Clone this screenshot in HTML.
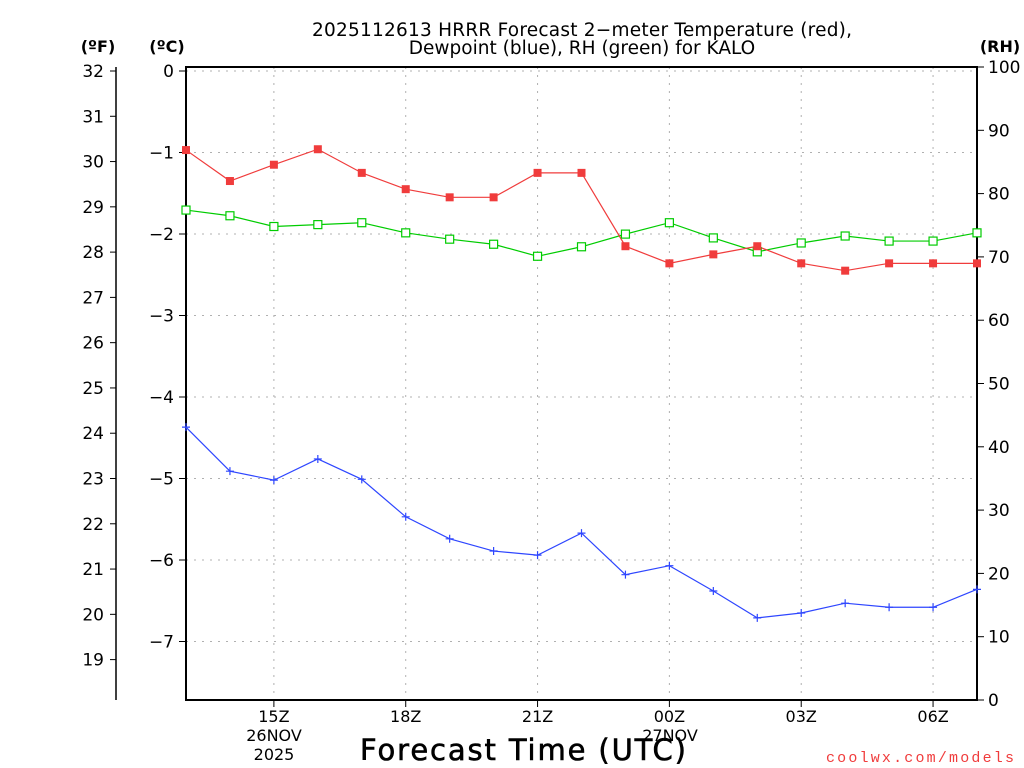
<!DOCTYPE html>
<html><head><meta charset="utf-8"><style>
html,body{margin:0;padding:0;background:#fff;}
svg{display:block;font-family:"DejaVu Sans","Liberation Sans",sans-serif;}
</style></head><body>
<svg id="chart" width="1024" height="768" viewBox="0 0 1024 768" xmlns="http://www.w3.org/2000/svg">
<text x="582" y="36" font-size="18.5" text-anchor="middle" textLength="540">2025112613 HRRR Forecast 2−meter Temperature (red),</text>
<text x="582" y="54" font-size="18.5" text-anchor="middle">Dewpoint (blue), RH (green) for KALO</text>
<text x="98" y="52" font-size="16" font-weight="bold" text-anchor="middle">(ºF)</text>
<text x="167" y="52" font-size="16" font-weight="bold" text-anchor="middle">(ºC)</text>
<text x="1000" y="52" font-size="16" font-weight="bold" text-anchor="middle">(RH)</text>
<text x="523" y="760" font-size="29" text-anchor="middle" stroke="#000" stroke-width="0.6" textLength="326">Forecast Time (UTC)</text>
<text x="1014" y="762" font-size="15" fill="#f03c3c" text-anchor="end" font-family="Liberation Mono, monospace" textLength="188">coolwx.com/models</text>
<g id="grid"></g><g id="axes"></g><g id="series"></g>
</svg>
<script>
const hours = ["13","14","15","16","17","18","19","20","21","22","23","00","01","02","03","04","05","06","07"];
const tempC = [-0.97,-1.35,-1.15,-0.96,-1.25,-1.45,-1.55,-1.55,-1.25,-1.25,-2.15,-2.36,-2.25,-2.15,-2.36,-2.45,-2.36,-2.36,-2.36];
const dewC = [-4.37,-4.91,-5.02,-4.76,-5.01,-5.47,-5.74,-5.89,-5.94,-5.67,-6.18,-6.07,-6.38,-6.71,-6.65,-6.53,-6.58,-6.58,-6.36];
const rh = [77.4,76.5,74.8,75.1,75.4,73.8,72.8,72.0,70.1,71.6,73.6,75.4,73.0,70.8,72.2,73.3,72.5,72.5,73.8];
const cTicks = [0,-1,-2,-3,-4,-5,-6,-7];
const fTicks = [32,31,30,29,28,27,26,25,24,23,22,21,20,19];
const rhTicks = [0,10,20,30,40,50,60,70,80,90,100];
const xTickIdx = [2,5,8,11,14,17];
const xTickLabels = ["15Z","18Z","21Z","00Z","03Z","06Z"];

const L=186,R=977,T=67,B=700;
const NS="http://www.w3.org/2000/svg";
const xs = i => L + (R-L)*i/(hours.length-1);
const yC = c => 71 - c*81.5;
const yF = f => yC((f-32)/1.8);
const yRH = v => B - (B-T)*v/100;
function mk(parent,tag,attrs,text){const e=document.createElementNS(NS,tag);for(const k in attrs)e.setAttribute(k,attrs[k]);if(text!==undefined)e.textContent=text;document.getElementById(parent).appendChild(e);return e;}

cTicks.forEach(c=>{
  const g=mk('grid','line',{x1:L,x2:R,y1:yC(c),y2:yC(c),stroke:'#b0b0b0','stroke-dasharray':'2,6'});
  
  
  const t=mk('axes','line',{x1:179,x2:L,y1:yC(c),y2:yC(c),stroke:'#000'});
  
  
  const lb=mk('axes','text',{x:174,y:yC(c)+6,'font-size':17,'text-anchor':'end'},c===0?'0':'−'+Math.abs(c));
  
  
});
xTickIdx.forEach((i,k)=>{
  const g=mk('grid','line',{x1:xs(i),x2:xs(i),y1:T,y2:B,stroke:'#b0b0b0','stroke-dasharray':'2,6'});
  
  
  const t=mk('axes','line',{x1:xs(i),x2:xs(i),y1:B,y2:B+7,stroke:'#000'});
  
  
  const lb=mk('axes','text',{x:xs(i),y:722,'font-size':16,'text-anchor':'middle'},xTickLabels[k]);
  
  
});
[["26NOV",274,741],["2025",274,760],["27NOV",670,741]].forEach(d=>{
  const lb=mk('axes','text',{x:d[1],y:d[2],'font-size':16,'text-anchor':'middle'},d[0]);
  
  
});
const fl=mk('axes','line',{x1:116,x2:116,y1:T,y2:B,stroke:'#000','stroke-width':1.5});


fTicks.forEach(f=>{
  const t=mk('axes','line',{x1:110,x2:116,y1:yF(f),y2:yF(f),stroke:'#000'});
  
  
  const lb=mk('axes','text',{x:104,y:yF(f)+6,'font-size':17,'text-anchor':'end'},String(f));
  
  
});
rhTicks.forEach(v=>{
  const t=mk('axes','line',{x1:R,x2:R+7,y1:yRH(v),y2:yRH(v),stroke:'#000'});
  
  
  const lb=mk('axes','text',{x:988,y:yRH(v)+6,'font-size':17,'text-anchor':'start'},String(v));
  
  
});
const fr=mk('axes','rect',{x:L,y:T,width:R-L,height:B-T,fill:'none',stroke:'#000','stroke-width':2});



function line(vals,yf,color,name){
  const p=mk('series','polyline',{points:vals.map((v,i)=>xs(i)+','+yf(v)).join(' '),fill:'none',stroke:color,'stroke-width':1.2});
  
  
}
line(rh,yRH,'#00cc00','rh');
line(tempC,yC,'#f03c3c','temperature');
line(dewC,yC,'#2e46ff','dewpoint');
rh.forEach((v,i)=>{
  const m=mk('series','rect',{x:xs(i)-4,y:yRH(v)-4,width:8,height:8,fill:'#fff',stroke:'#00cc00','stroke-width':1.2});
  
  
});
tempC.forEach((v,i)=>{
  const m=mk('series','rect',{x:xs(i)-4,y:yC(v)-4,width:8,height:8,fill:'#f03c3c'});
  
  
});
dewC.forEach((v,i)=>{
  const m=mk('series','path',{d:`M${xs(i)-4},${yC(v)}h8M${xs(i)},${yC(v)-4}v8`,stroke:'#2e46ff','stroke-width':1.2});
  
  
});
</script>
</body></html>
